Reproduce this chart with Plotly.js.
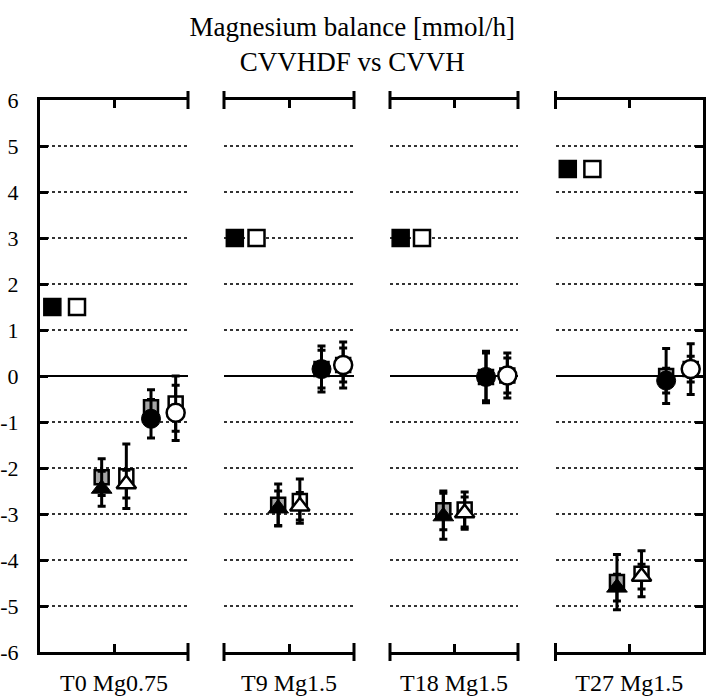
<!DOCTYPE html>
<html>
<head>
<meta charset="utf-8">
<script src="https://cdn.plot.ly/plotly-3.0.1.min.js"></script>
<style>html,body{margin:0;padding:0;background:#fff;}#chart{width:706px;height:700px;}</style>
</head>
<body>
<div id="chart"></div>
<script>
// ---- data ----
const panelNames = ['T0 Mg0.75', 'T9 Mg1.5', 'T18 Mg1.5', 'T27 Mg1.5'];
const yTickVals = [-6, -5, -4, -3, -2, -1, 0, 1, 2, 3, 4, 5, 6];
const yTickText = ['-6', '-5', '-4', '-3', '-2', '-1', '0', '1', '2', '3', '4', '5', '6'];

// top squares (filled = CVVHDF, open = CVVH)
const infHDF = [1.5, 3, 3, 4.5];
const infH = [1.5, 3, 3, 4.5];

// squares behind triangles
const sqTriHDF = [-2.2, -2.8, -2.92, -4.48];
const sqTriHDFsd = [0.4, 0.45, 0.42, 0.6];
const sqTriH = [-2.18, -2.72, -2.9, -4.3];
const sqTriHsd = [0.7, 0.48, 0.38, 0.5];

// triangles
const triHDF = [-2.45, -2.88, -3.05, -4.6];
const triHDFsd = [0.38, 0.38, 0.5, 0.29];
const triH = [-2.35, -2.83, -2.98, -4.36];
const triHsd = [0.3, 0.3, 0.35, 0.27];

// squares behind circles
const sqCircHDF = [-0.68, 0.15, -0.02, 0.0];
const sqCircHDFsd = [0.38, 0.5, 0.52, 0.6];
const sqCircH = [-0.6, 0.24, 0.01, 0.15];
const sqCircHsd = [0.6, 0.5, 0.49, 0.55];

// circles
const circHDF = [-0.93, 0.15, -0.02, -0.1];
const circHDFsd = [0.42, 0.41, 0.56, 0.27];
const circH = [-0.8, 0.24, 0.01, 0.15];
const circHsd = [0.6, 0.37, 0.38, 0.28];

// ---- layout constants ----
const W = 706, H = 700;
const FONT = '"Liberation Serif", "Times New Roman", serif';
const GREY = '#a6a6a6';
const panelPx = [[40, 188], [224, 354], [390, 518], [555.5, 703]];
const yTopPx = 100, yBotPx = 652;
const yDomain = [1 - yBotPx / H, 1 - yTopPx / H];

const slot = {infHDF: 0, infH: 1, triHDF: 2, triH: 3, circHDF: 4, circH: 5};

function errBar(v) {
  return {type: 'data', array: [v], visible: true, color: 'black', thickness: 3, width: 4};
}

const traces = [];
panelNames.forEach((name, i) => {
  const xa = i === 0 ? 'x' : 'x' + (i + 1);
  const ya = i === 0 ? 'y' : 'y' + (i + 1);
  const base = {type: 'scatter', mode: 'markers', xaxis: xa, yaxis: ya, hoverinfo: 'skip', cliponaxis: false};
  // top squares
  traces.push(Object.assign({}, base, {x: [slot.infHDF], y: [infHDF[i]],
    marker: {symbol: 'square', size: 17, color: 'black', line: {color: 'black', width: 1.5}}}));
  traces.push(Object.assign({}, base, {x: [slot.infH], y: [infH[i]],
    marker: {symbol: 'square', size: 16, color: 'white', line: {color: 'black', width: 2.5}}}));
  // squares behind
  traces.push(Object.assign({}, base, {x: [slot.triHDF], y: [sqTriHDF[i]], error_y: errBar(sqTriHDFsd[i]),
    marker: {symbol: 'square', size: 14, color: GREY, line: {color: 'black', width: 2.5}}}));
  traces.push(Object.assign({}, base, {x: [slot.triH], y: [sqTriH[i]], error_y: errBar(sqTriHsd[i]),
    marker: {symbol: 'square', size: 14, color: 'white', line: {color: 'black', width: 2.5}}}));
  traces.push(Object.assign({}, base, {x: [slot.circHDF], y: [sqCircHDF[i]], error_y: errBar(sqCircHDFsd[i]),
    marker: {symbol: 'square', size: 14, color: GREY, line: {color: 'black', width: 2.5}}}));
  traces.push(Object.assign({}, base, {x: [slot.circH], y: [sqCircH[i]], error_y: errBar(sqCircHsd[i]),
    marker: {symbol: 'square', size: 14, color: 'white', line: {color: 'black', width: 2.5}}}));
  // triangles
  traces.push(Object.assign({}, base, {x: [slot.triHDF], y: [triHDF[i]], error_y: errBar(triHDFsd[i]),
    marker: {symbol: 'triangle-up', size: 18, color: 'black', line: {color: 'black', width: 1}}}));
  traces.push(Object.assign({}, base, {x: [slot.triH], y: [triH[i]], error_y: errBar(triHsd[i]),
    marker: {symbol: 'triangle-up', size: 17, color: 'white', line: {color: 'black', width: 2.5}}}));
  // circles
  traces.push(Object.assign({}, base, {x: [slot.circHDF], y: [circHDF[i]], error_y: errBar(circHDFsd[i]),
    marker: {symbol: 'circle', size: 19, color: 'black', line: {color: 'black', width: 1}}}));
  traces.push(Object.assign({}, base, {x: [slot.circH], y: [circH[i]], error_y: errBar(circHsd[i]),
    marker: {symbol: 'circle', size: 18, color: 'white', line: {color: 'black', width: 2.5}}}));
});

const layout = {
  width: W, height: H,
  margin: {l: 0, r: 0, t: 0, b: 0},
  paper_bgcolor: 'white', plot_bgcolor: 'white',
  showlegend: false,
  font: {family: FONT, color: 'black'},
  title: {
    text: 'Magnesium balance [mmol/h]<br>CVVHDF vs CVVH',
    font: {family: FONT, size: 27, color: 'black'},
    x: 0.499, xref: 'paper', xanchor: 'center',
    y: 1 - 36 / H, yref: 'paper', yanchor: 'top'
  },
  shapes: []
};

panelNames.forEach((name, i) => {
  const sfx = i === 0 ? '' : String(i + 1);
  const dom = [panelPx[i][0] / W, panelPx[i][1] / W];
  layout['xaxis' + sfx] = {
    domain: dom, range: [-0.5, 5.5], anchor: 'y' + sfx,
    showline: true, linewidth: 3, linecolor: 'black', mirror: 'allticks',
    ticks: 'inside', ticklen: 8, tickwidth: 3, tickcolor: 'black',
    tickvals: [2.5], ticktext: [name], ticklabelstandoff: 7,
    tickfont: {family: FONT, size: 24, color: 'black'},
    showgrid: false, zeroline: false, fixedrange: true
  };
  const ya = {
    domain: yDomain, range: [-6, 6], anchor: 'x' + sfx,
    tickvals: yTickVals, ticktext: yTickText,
    showgrid: true, gridcolor: '#333', gridwidth: 1.2, griddash: 'dot',
    zeroline: true, zerolinecolor: 'black', zerolinewidth: 2.5,
    fixedrange: true
  };
  if (i === 0) {
    Object.assign(ya, {showline: true, linewidth: 3, linecolor: 'black', ticks: 'inside', ticklen: 8,
      tickwidth: 3, tickcolor: 'black', showticklabels: true, ticklabelstandoff: 14,
      tickfont: {family: FONT, size: 22, color: 'black'}});
  } else if (i === 3) {
    Object.assign(ya, {side: 'right', showline: true, linewidth: 3, linecolor: 'black', ticks: 'inside',
      ticklen: 8, tickwidth: 3, tickcolor: 'black', showticklabels: false});
  } else {
    Object.assign(ya, {showline: false, ticks: '', showticklabels: false});
  }
  layout['yaxis' + sfx] = ya;

  // crossing ticks at the panel edges
  const ends = i === 0 ? [1] : (i === 3 ? [0] : [0, 1]);
  ends.forEach(xd => {
    [yDomain[0], yDomain[1]].forEach(yp => {
      layout.shapes.push({type: 'line', xref: 'x' + sfx + ' domain', yref: 'paper',
        x0: xd, x1: xd, y0: yp - 9 / H, y1: yp + 9 / H,
        line: {color: 'black', width: 3}});
    });
  });
});

Plotly.newPlot('chart', traces, layout, {displayModeBar: false, staticPlot: true});
</script>
</body>
</html>
